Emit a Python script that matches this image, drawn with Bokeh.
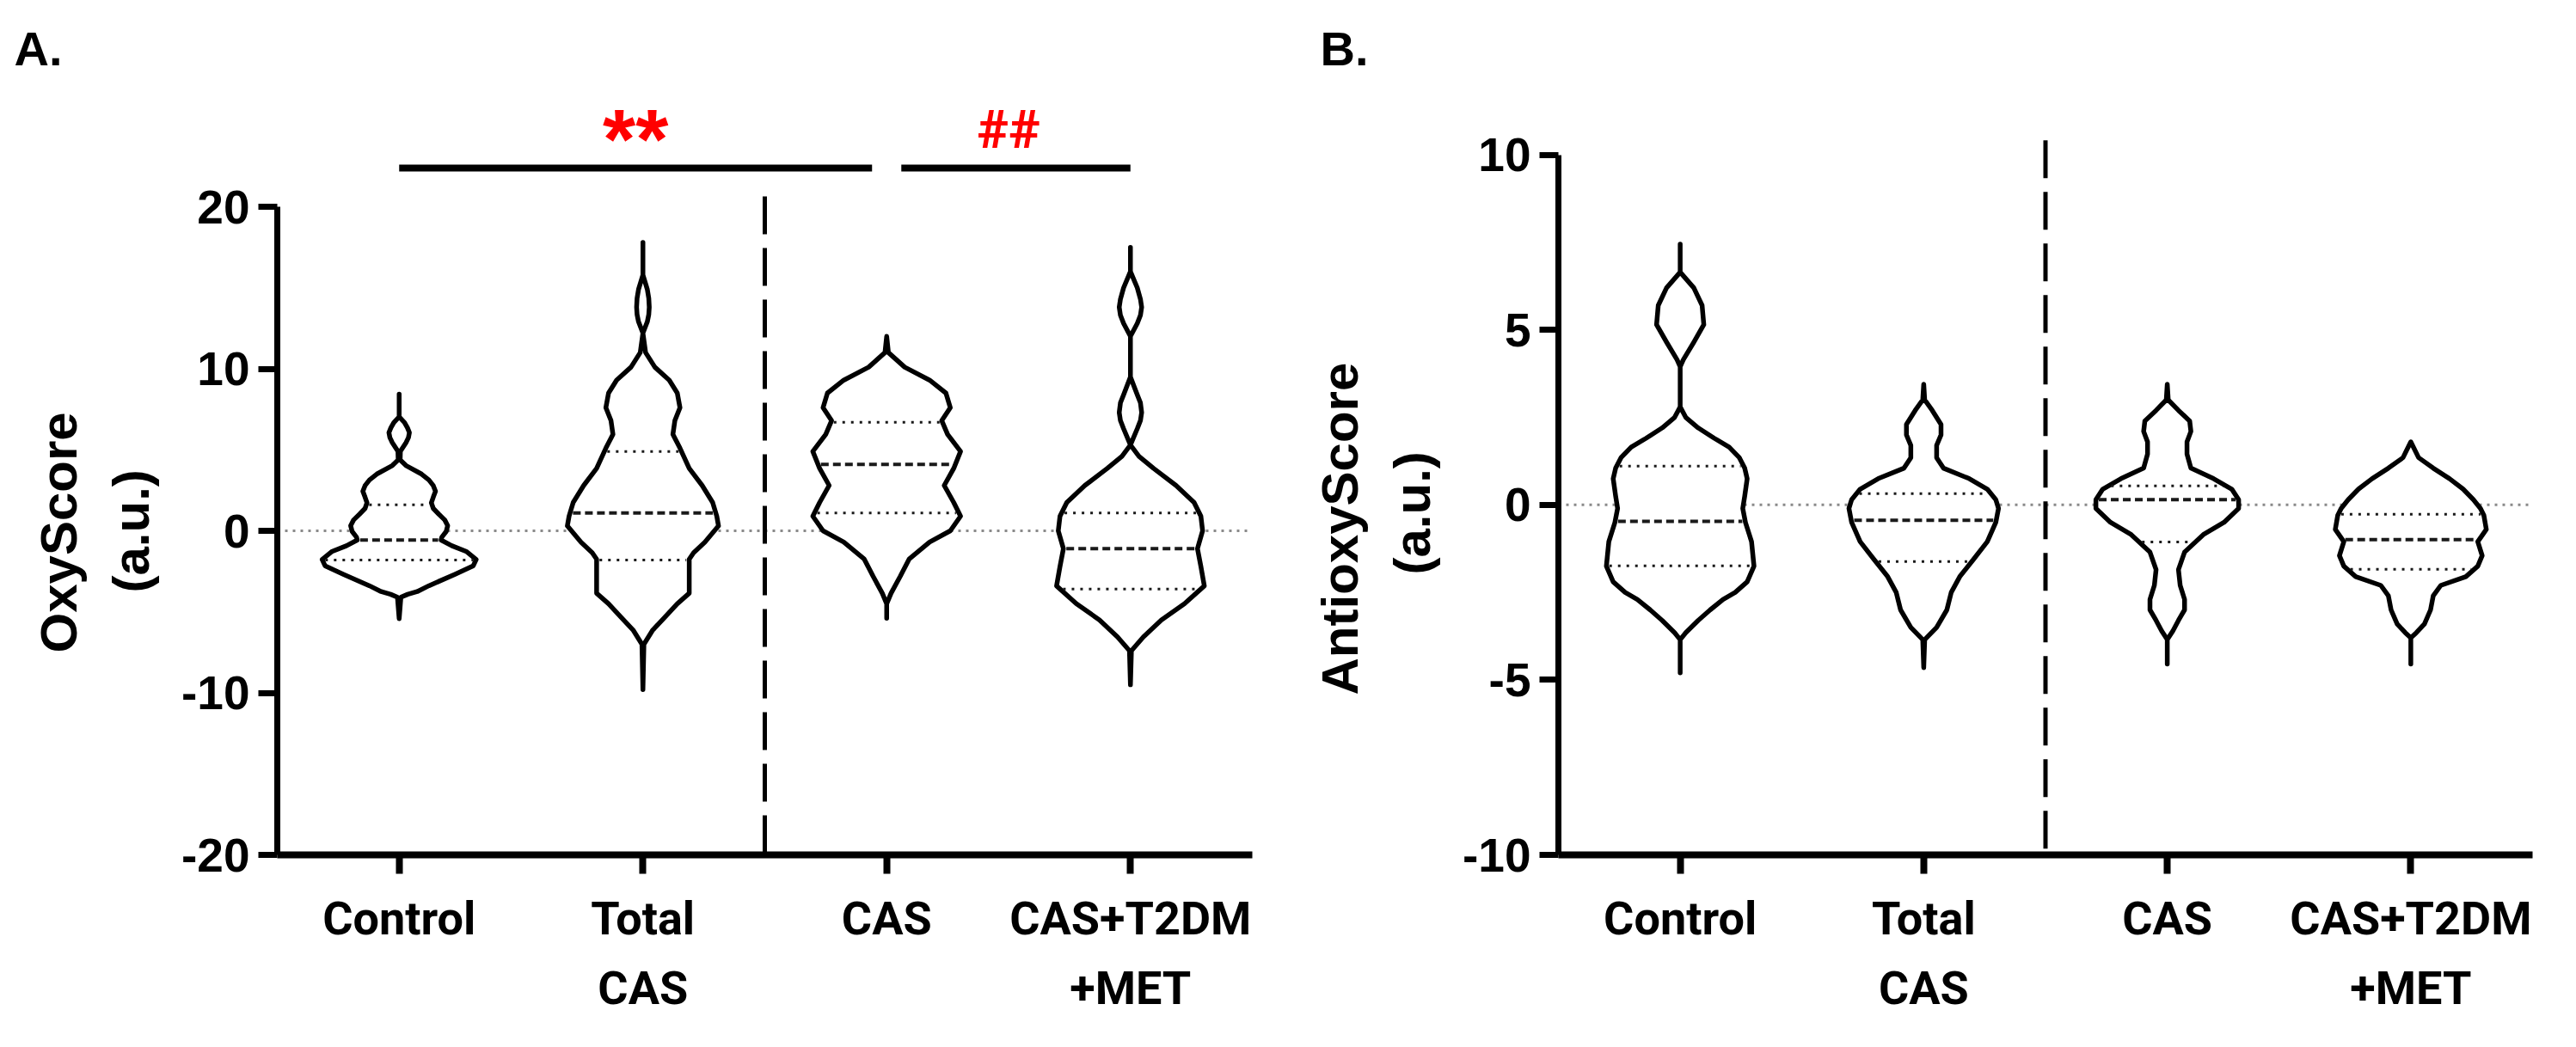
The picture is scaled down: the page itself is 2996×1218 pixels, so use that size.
import numpy as np
from bokeh.plotting import figure
from bokeh.models import Range1d, FixedTicker, Span, Label, Title
from bokeh.layouts import row
from bokeh.embed import file_html
from bokeh.resources import INLINE

# ---------------- data ----------------
categories = ["Control", "Total CAS", "CAS", "CAS+T2DM+MET"]
tick_labels = ["Control", "Total\nCAS", "CAS", "CAS+T2DM\n+MET"]

# Panel A (OxyScore): violin outline levels (y) and half-widths (category units)
oxy_control_y = [8.44, 7.03, 6.68, 6.36, 6.06, 5.75, 5.44, 4.91, 4.38, 4.03, 3.50, 3.14, 2.79, 2.44, 2.08,
                 1.73, 1.38, 1.02, 0.67, 0.32, -0.04, -0.39, -0.57, -0.92, -1.27, -1.77, -2.16, -2.69,
                 -3.39, -3.75, -3.92, -4.10, -5.42]
oxy_control_w = [0, 0, 0.022, 0.034, 0.042, 0.038, 0.028, 0.005, 0.004, 0.028, 0.092, 0.122, 0.140, 0.149,
                 0.140, 0.132, 0.140, 0.163, 0.187, 0.199, 0.193, 0.175, 0.172, 0.216, 0.275, 0.316, 0.304,
                 0.228, 0.122, 0.074, 0.035, 0.007, 0]
oxy_total_y = [17.8, 15.8, 14.9, 14.35, 13.8, 13.35, 12.9, 12.2, 11.0, 10.1, 9.3, 8.5, 7.6, 6.8, 5.95, 5.1,
               3.85, 2.8, 1.75, 0.9, 0.3, -0.7, -1.35, -1.75, -2.8, -3.85, -4.5, -5.3, -6.15, -7.0, -9.8]
oxy_total_w = [0, 0, 0.018, 0.024, 0.026, 0.024, 0.018, 0, 0.011, 0.049, 0.108, 0.141, 0.152, 0.131, 0.123,
               0.152, 0.190, 0.243, 0.286, 0.303, 0.310, 0.254, 0.208, 0.190, 0.190, 0.190, 0.141, 0.092,
               0.039, 0.004, 0]
oxy_cas_y = [12.0, 11.0, 10.1, 9.3, 8.5, 7.6, 6.8, 5.95, 4.9, 3.85, 2.8, 1.75, 0.9, 0.0, -0.7, -1.75, -2.8,
             -3.85, -4.5, -5.4]
oxy_cas_w = [0, 0.007, 0.074, 0.176, 0.243, 0.261, 0.226, 0.250, 0.303, 0.275, 0.236, 0.275, 0.303, 0.261,
             0.176, 0.092, 0.056, 0.018, 0, 0]
oxy_met_y = [17.5, 16.0, 15.0, 14.3, 13.8, 13.3, 12.8, 12.0, 9.5, 8.4, 7.9, 7.3, 6.8, 6.3, 5.3, 4.6, 3.85,
             2.8, 1.75, 0.9, 0.0, -1.1, -2.2, -3.4, -4.5, -5.5, -6.55, -7.4, -9.5]
oxy_met_w = [0, 0, 0.028, 0.041, 0.046, 0.041, 0.028, 0, 0, 0.028, 0.041, 0.046, 0.041, 0.028, 0, 0.035,
             0.095, 0.187, 0.261, 0.289, 0.296, 0.275, 0.289, 0.303, 0.222, 0.127, 0.053, 0.004, 0]
oxy_median = [-0.57, 1.1, 4.1, -1.1]
oxy_q1 = [-1.8, -1.8, 1.1, -3.6]
oxy_q3 = [1.6, 4.9, 6.7, 1.1]

# Panel B (AntioxyScore)
anti_control_y = [7.45, 6.65, 6.2, 5.7, 5.15, 4.65, 4.15, 3.95, 2.8, 2.5, 2.2, 1.9, 1.65, 1.35, 1.05, 0.75,
                  0.25, -0.1, -0.5, -1.05, -1.75, -2.2, -2.5, -2.7, -3.0, -3.3, -3.65, -3.85, -4.8]
anti_control_w = [0, 0, 0.056, 0.090, 0.097, 0.056, 0.013, 0, 0, 0.023, 0.074, 0.141, 0.201, 0.243, 0.265,
                  0.275, 0.265, 0.257, 0.268, 0.293, 0.303, 0.275, 0.226, 0.176, 0.123, 0.074, 0.023, 0, 0]
anti_total_y = [3.45, 3.0, 2.7, 2.3, 2.0, 1.7, 1.35, 1.05, 0.75, 0.45, 0.15, -0.1, -0.5, -1.05, -1.55,
                -2.05, -2.5, -3.0, -3.5, -3.85, -4.65]
anti_total_w = [0, 0.004, 0.035, 0.071, 0.071, 0.053, 0.053, 0.081, 0.187, 0.261, 0.296, 0.307, 0.296,
                0.261, 0.205, 0.148, 0.113, 0.095, 0.053, 0.004, 0]
anti_cas_y = [3.45, 3.0, 2.7, 2.4, 2.1, 1.8, 1.45, 1.05, 0.75, 0.45, 0.15, -0.1, -0.5, -0.85, -1.35, -1.85,
              -2.3, -2.7, -3.0, -3.3, -3.6, -3.85, -4.55]
anti_cas_w = [0, 0.004, 0.046, 0.092, 0.097, 0.081, 0.081, 0.097, 0.190, 0.265, 0.293, 0.293, 0.233, 0.148,
              0.071, 0.046, 0.053, 0.071, 0.071, 0.046, 0.023, 0, 0]
anti_met_y = [1.8, 1.35, 1.05, 0.75, 0.45, 0.15, -0.1, -0.3, -0.7, -1.05, -1.45, -1.75, -2.05, -2.3, -2.6,
              -3.0, -3.4, -3.65, -3.8, -4.55]
anti_met_w = [0, 0.032, 0.092, 0.159, 0.215, 0.257, 0.286, 0.300, 0.310, 0.275, 0.293, 0.275, 0.226, 0.123,
              0.092, 0.081, 0.056, 0.023, 0, 0]
anti_median = [-0.47, -0.44, 0.15, -0.99]
anti_q1 = [-1.74, -1.62, -1.06, -1.84]
anti_q3 = [1.11, 0.32, 0.54, -0.27]

oxy_ticks = [-20, -10, 0, 10, 20]
anti_ticks = [-10, -5, 0, 5, 10]

comparisons_a = [("Control", "CAS", "**"), ("CAS", "CAS+T2DM+MET", "##")]

# ---------------- drawing ----------------
TICK_FONT = "Liberation Sans"
CAT_FONT = "Roboto"
H = 1202
TOP = 92


def make_panel(width, height, border_left, border_right, border_bottom, border_top,
               px_per_unit, ymin, ticks, ylabel_lines, ylabel_offsets, profiles, medians, q1s, q3s,
               letter, letter_offset):
    frame_h = height - border_top - border_bottom
    y_top = ymin + frame_h / px_per_unit
    p = figure(width=width, height=height, output_backend="svg", toolbar_location=None,
               x_range=Range1d(-0.5, 3.5), y_range=Range1d(ymin, y_top),
               min_border_left=border_left, min_border_right=border_right,
               min_border_bottom=border_bottom, min_border_top=border_top)
    p.outline_line_color = None
    p.grid.visible = False
    p.background_fill_color = "white"
    p.border_fill_color = "white"

    # panel letter
    p.add_layout(Title(text=letter, align="left", offset=letter_offset, standoff=10,
                       vertical_align="bottom", text_font=TICK_FONT, text_font_style="bold",
                       text_font_size="56px", text_color="black"), "above")
    # y-axis label, two lines (inner line first)
    for txt, off, so in zip(ylabel_lines[::-1], ylabel_offsets[::-1], (46, -16)):
        p.add_layout(Title(text=txt, align="left", offset=off, standoff=so, vertical_align="bottom",
                           text_font=TICK_FONT, text_font_style="bold", text_font_size="60px",
                           text_color="black"), "left")

    # zero reference line
    p.add_layout(Span(location=0, dimension="width", line_color="#8a8a8a", line_width=3,
                      line_dash="3 6", level="underlay"))

    for i, (ys, ws) in enumerate(profiles):
        ys = np.array(ys, dtype=float)
        ws = np.array(ws, dtype=float)
        xs = np.concatenate([i + ws, (i - ws)[::-1]])
        yy = np.concatenate([ys, ys[::-1]])
        p.patch(xs, yy, fill_color="white", line_color="black", line_width=5.5, line_join="round")
        for lvl, dash, lw in ((medians[i], "9 5", 4), (q1s[i], "3 7", 3), (q3s[i], "3 7", 3)):
            hw = np.interp(lvl, ys[::-1], ws[::-1]) - 0.012
            p.segment(x0=[i - hw], x1=[i + hw], y0=[lvl], y1=[lvl], line_color="#1a1a1a",
                      line_width=lw, line_dash=dash)

    # axes
    p.xaxis.ticker = FixedTicker(ticks=list(range(len(categories))))
    p.xaxis.major_label_overrides = {i: t for i, t in enumerate(tick_labels)}
    p.yaxis.ticker = FixedTicker(ticks=ticks)
    p.yaxis.major_label_overrides = {t: str(t) for t in ticks}
    p.yaxis.bounds = (ticks[0], ticks[-1])
    for ax in (p.xaxis[0], p.yaxis[0]):
        ax.axis_line_color = "black"
        ax.major_tick_line_color = "black"
        ax.major_tick_in = 0
        ax.major_tick_out = 22
        ax.minor_tick_line_color = None
        ax.axis_line_cap = "butt"
    p.yaxis.axis_line_width = 7
    p.yaxis.major_tick_line_width = 7
    p.xaxis.axis_line_width = 8
    p.xaxis.major_tick_line_width = 8
    p.yaxis.major_label_text_font = TICK_FONT
    p.yaxis.major_label_text_font_style = "bold"
    p.yaxis.major_label_text_font_size = "55px"
    p.yaxis.major_label_text_color = "black"
    p.yaxis.major_label_standoff = 10
    p.xaxis.major_label_text_font = CAT_FONT
    p.xaxis.major_label_text_font_style = "bold"
    p.xaxis.major_label_text_font_size = "54px"
    p.xaxis.major_label_text_color = "black"
    p.xaxis.major_label_text_line_height = 1.3
    p.xaxis.major_label_standoff = 20
    return p


profiles_a = [(oxy_control_y, oxy_control_w), (oxy_total_y, oxy_total_w),
              (oxy_cas_y, oxy_cas_w), (oxy_met_y, oxy_met_w)]
profiles_b = [(anti_control_y, anti_control_w), (anti_total_y, anti_total_w),
              (anti_cas_y, anti_cas_w), (anti_met_y, anti_met_w)]

PXA = 18.85   # px per unit, panel A
PXB = 40.85   # px per unit, panel B

pA = make_panel(1492, H, 322, 36, 208, TOP, PXA, -20, oxy_ticks, ["OxyScore", "(a.u.)"], [235, 305],
                profiles_a, oxy_median, oxy_q1, oxy_q3, "A.", 24 - 330)
pB = make_panel(1488, H, 320, 35, 205, TOP, PXB, -10, anti_ticks, ["AntioxyScore", "(a.u.)"], [186, 326],
                profiles_b, anti_median, anti_q1, anti_q3, "B.", 1543 - 1820)


def va(page_y):
    return -20 + (1002 - page_y) / PXA


def vb(page_y):
    return -10 + (1005 - page_y) / PXB


# dashed separators between groups
pA.segment(x0=[1.5], x1=[1.5], y0=[va(236)], y1=[-20], line_color="black", line_width=5,
           line_dash="44 16")
pB.segment(x0=[1.5], x1=[1.5], y0=[vb(171)], y1=[-10], line_color="black", line_width=5,
           line_dash="44 16")

# significance bars (panel A)
gap = 0.06
bar_y = va(203)
for a, b, mark in comparisons_a:
    i0, i1 = categories.index(a), categories.index(b)
    x0 = i0 + (gap if any(c[1] == a for c in comparisons_a) else 0)
    x1 = i1 - (gap if any(c[0] == b for c in comparisons_a) else 0)
    pA.segment(x0=[x0], x1=[x1], y0=[bar_y], y1=[bar_y], line_color="black", line_width=8,
               line_cap="butt")
    if mark == "**":
        pA.add_layout(Label(x=(x0 + x1) / 2, y=va(151), text=mark, text_align="center",
                            text_baseline="middle", text_color="#ff0000", text_font=TICK_FONT,
                            text_font_style="bold", text_font_size="98px", y_offset=-18))
    else:
        pA.add_layout(Label(x=(x0 + x1) / 2 - 0.03, y=va(158), text=mark, text_align="center",
                            text_baseline="alphabetic", text_color="#ff0000", text_font=CAT_FONT,
                            text_font_style="bold", text_font_size="62px"))

layout = row(pA, pB)
open("out.html", "w").write(file_html(layout, INLINE))
